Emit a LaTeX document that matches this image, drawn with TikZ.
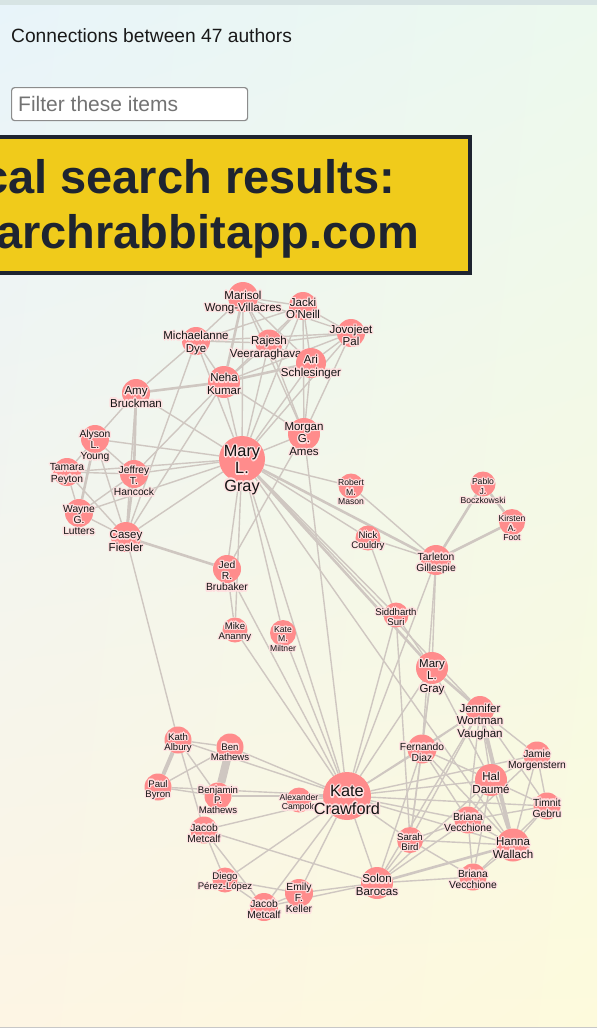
\documentclass[tikz,border=0pt]{standalone}
\usepackage{fontspec}
\setmainfont{Liberation Sans}
\usetikzlibrary{shadings}
\pgfdeclarelayer{bgl}
\pgfdeclarelayer{edgel}
\pgfsetlayers{bgl,edgel,main}
\definecolor{circc}{RGB}{255,140,140}
\definecolor{haloc}{RGB}{255,224,224}
\definecolor{edgec}{RGB}{207,199,193}
\definecolor{bannerc}{RGB}{240,203,27}
\definecolor{navyc}{RGB}{30,36,48}
\definecolor{topc}{RGB}{215,228,228}
\definecolor{ulc}{RGB}{232,244,250}
\definecolor{urc}{RGB}{236,249,238}
\definecolor{llc}{RGB}{253,245,228}
\definecolor{lrc}{RGB}{253,250,220}
\tikzset{
  authc/.style={circle, fill=circc, inner sep=0pt, minimum size=#1},
  lbl/.style={align=center, inner sep=0pt},
  fA/.style={font=\fontsize{8.6}{9.4}\selectfont},
  fB/.style={font=\fontsize{9.6}{10.4}\selectfont},
  fC/.style={font=\fontsize{10.3}{11.2}\selectfont},
  fD/.style={font=\fontsize{11.5}{12.4}\selectfont},
  fE/.style={font=\fontsize{16.3}{17.2}\selectfont},
  edge/.style={draw=edgec, line width=1.4pt},
  edgeb/.style={draw=edgec, line width=2.6pt},
  edgec/.style={draw=edgec, line width=4pt},
  edged/.style={draw=edgec, line width=8pt},
}
% id, cx, cy, r, font style, text y, text
\newcommand\au[7]{%
  \node[authc=2*#4] (#1) at (#2,#3) {};
  \foreach \ang in {0,30,...,330}{\node[lbl,#5,text=haloc] at ([shift={(\ang:1.3pt)}]#2,#6) {#7};}
  \node[lbl,#5,text=black!92] (#1-t) at (#2,#6) {#7};
}
\begin{document}
\begin{tikzpicture}[x=1pt,y=-1pt]
\useasboundingbox (0,0) rectangle (597,1028);
\begin{pgfonlayer}{bgl}
  \shade[upper left=ulc, upper right=urc, lower left=llc, lower right=lrc] (0,0) rectangle (597,1028);
  \fill[topc] (0,0) rectangle (597,5);
  \fill[black!22] (0,1026.5) rectangle (597,1028);
\end{pgfonlayer}

% header
\node[anchor=base west, inner sep=0pt, font=\fontsize{19.2}{21}\selectfont, text=black!90] (hdr) at (11,42) {Connections between 47 authors};
\node[anchor=north west, draw=black!45, line width=1.2pt, rounded corners=3pt, fill=white, minimum width=236pt, minimum height=33pt, inner sep=0pt] (filt) at (11,87) {};
\node[anchor=base west, inner sep=0pt, font=\fontsize{21}{23}\selectfont, text=black!55] (filtxt) at (18,111) {Filter these items};

% banner
\node[anchor=north west, fill=bannerc, draw=navyc, line width=4pt, minimum width=478pt, minimum height=136pt, inner sep=0pt] (ban) at (-10,135) {};
\node[anchor=base west, inner sep=0pt, font=\bfseries\fontsize{47}{50}\selectfont, text=navyc] (ban1) at (-18,193) {cal search results:};
\node[anchor=base west, inner sep=0pt, font=\bfseries\fontsize{47}{50}\selectfont, text=navyc] (ban2) at (-4,248) {archrabbitapp.com};

% authors
\au{mar}{243}{297}{15}{fD}{302.5}{Marisol\\Wong-Villacres}
\au{jac}{303}{306}{14}{fD}{308.5}{Jacki\\O'Neill}
\au{jov}{351}{333}{14}{fD}{335.5}{Jovojeet\\Pal}
\au{mic}{196}{341}{14}{fD}{343}{Michaelanne\\Dye}
\au{raj}{269}{343}{13.5}{fD}{348}{Rajesh\\Veeraraghavan}
\au{ari}{311}{363}{15}{fD}{367}{Ari\\Schlesinger}
\au{neh}{224}{382}{16}{fD}{384}{Neha\\Kumar}
\au{amy}{136}{393}{14}{fD}{397}{Amy\\Bruckman}
\au{mor}{304}{434}{16}{fD}{439}{Morgan\\G.\\Ames}
\au{mg1}{242}{459}{23}{fE}{470}{Mary\\L.\\Gray}
\au{aly}{95}{439}{14}{fC}{446}{Alyson\\L.\\Young}
\au{tam}{67}{472}{14}{fC}{474}{Tamara\\Peyton}
\au{jef}{134}{474}{14}{fC}{481}{Jeffrey\\T.\\Hancock}
\au{way}{79}{513}{14}{fC}{520}{Wayne\\G.\\Lutters}
\au{cas}{126}{537}{15}{fD}{541}{Casey\\Fiesler}
\au{jed}{227}{569}{14}{fC}{576}{Jed\\R.\\Brubaker}
\au{rob}{351}{486}{12.5}{fA}{492}{Robert\\M.\\Mason}
\au{pab}{483}{484}{12.5}{fA}{491}{Pablo\\J.\\Boczkowski}
\au{kir}{512}{522}{13}{fA}{528}{Kirsten\\A.\\Foot}
\au{nic}{368}{538}{12.5}{fB}{541}{Nick\\Couldry}
\au{tar}{436}{560}{15}{fC}{563}{Tarleton\\Gillespie}
\au{sid}{396}{615}{12.5}{fB}{617}{Siddharth\\Suri}
\au{mik}{235}{630}{12.5}{fB}{632}{Mike\\Ananny}
\au{kmm}{283}{633}{13}{fA}{639}{Kate\\M.\\Miltner}
\au{mg2}{432}{668}{16}{fD}{677}{Mary\\L.\\Gray}
\au{jen}{480}{710}{14}{fD}{722}{Jennifer\\Wortman\\Vaughan}
\au{fer}{422}{749}{14.5}{fC}{752}{Fernando\\Diaz}
\au{jam}{537}{755}{13.5}{fC}{760}{Jamie\\Morgenstern}
\au{hal}{491}{780}{16}{fD}{783}{Hal\\Daumé}
\au{kat}{178}{740}{13.5}{fB}{743}{Kath\\Albury}
\au{ben}{230}{747}{13.5}{fB}{752}{Ben\\Mathews}
\au{pau}{158}{787}{13.5}{fB}{790}{Paul\\Byron}
\au{bpm}{218}{796}{13.5}{fB}{800}{Benjamin\\P.\\Mathews}
\au{ale}{299}{800}{12.5}{fA}{803}{Alexander\\Campolo}
\au{kcr}{347}{796}{24}{fE}{800}{Kate\\Crawford}
\au{tim}{547}{806}{13.5}{fC}{808}{Timnit\\Gebru}
\au{br1}{468}{820}{13.5}{fC}{822}{Briana\\Vecchione}
\au{ja1}{204}{830}{13.5}{fC}{833}{Jacob\\Metcalf}
\au{sar}{410}{840}{13}{fB}{842}{Sarah\\Bird}
\au{han}{513}{845}{16.5}{fD}{848}{Hanna\\Wallach}
\au{sol}{377}{883}{16}{fD}{885}{Solon\\Barocas}
\au{br2}{473}{877}{13.5}{fC}{879}{Briana\\Vecchione}
\au{die}{225}{880}{12.5}{fB}{882}{Diego\\Pérez-López}
\au{ja2}{264}{907}{14}{fC}{909}{Jacob\\Metcalf}
\au{emi}{299}{893}{14}{fC}{898}{Emily\\F.\\Keller}

\begin{pgfonlayer}{edgel}
\foreach \a/\b in {mar/jac, mar/mic, mar/raj, mar/ari, mar/mor, mar/mg1, mar/jov,
  jac/jov, jac/raj, jac/ari, jac/neh, jac/mor, jac/mic, jac/mg1,
  jov/raj, jov/mic, jov/ari, jov/neh, jov/mor, jov/mg1,
  mic/raj, mic/neh, mic/amy, mic/mg1, mic/cas,
  raj/neh, raj/ari, raj/mor, raj/mg1,
  ari/mor, ari/mg1,
  neh/mor, neh/mg1, neh/cas, neh/jef,
  amy/aly, amy/mg1, amy/cas,
  mor/mg1, mor/kcr, mor/jed,
  aly/mg1, aly/jef, aly/cas, aly/tam,
  tam/mg1, tam/way, tam/cas, tam/jef,
  jef/mg1, jef/way,
  way/cas, way/mg1,
  cas/mg1, cas/kat,
  mg1/rob, mg1/nic, mg1/sid, mg1/jen, mg1/han, mg1/jed, mg1/mik, mg1/kmm, mg1/kcr,
  rob/tar, nic/tar, nic/sid,
  tar/mg2, tar/kcr, tar/fer,
  sid/mg2, sid/kcr, sid/sar,
  jed/kcr, jed/mik, mik/kcr, kmm/kcr,
  mg2/fer, mg2/sar, mg2/kcr, mg2/hal,
  jen/hal, jen/jam, jen/fer, jen/br1, jen/sar, jen/kcr, jen/tim, jen/sol,
  fer/kcr, fer/hal, fer/han, fer/sar, fer/sol, fer/br1,
  jam/hal, jam/tim, jam/han, jam/br1, jam/kcr,
  hal/kcr, hal/tim, hal/han, hal/br1, hal/br2, hal/sol,
  tim/han, tim/br1, tim/kcr, tim/br2,
  br1/han, br1/sar, br1/sol, br1/kcr, br1/br2,
  sar/kcr, sar/han, sar/sol, sar/br2,
  han/br2, han/kcr, br2/sol,
  kat/ben, kat/bpm, kat/ja1, kat/kcr,
  ben/pau, ben/kcr, pau/bpm, pau/kcr, bpm/kcr,
  ale/kcr, ja1/kcr, ja1/die, ja1/ja2, ja1/sol,
  die/ja2, die/emi, die/kcr,
  ja2/kcr, ja2/emi, ja2/sol,
  emi/kcr, emi/sol, sol/kcr}
  {\draw[edge] (\a) -- (\b);}
\foreach \a/\b in {mar/neh, ari/neh, neh/amy, amy/jef, jef/cas, aly/way, cas/jed,
  pab/tar, pab/kir, kir/tar, mg1/mg2, mg1/tar, mg2/jen, han/sol}
  {\draw[edgeb] (\a) -- (\b);}
\foreach \a/\b in {jen/han, kat/pau}
  {\draw[edgec] (\a) -- (\b);}
\draw[edged] (ben) -- (bpm);
\end{pgfonlayer}
\end{tikzpicture}
\end{document}
